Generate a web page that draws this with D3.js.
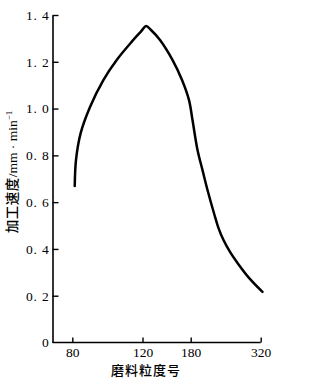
<!DOCTYPE html>
<html>
<head>
<meta charset="utf-8">
<script src="https://cdn.jsdelivr.net/npm/d3@7"></script>
<style>
  body { margin: 0; background: #fff; }
  .tick text { font-family: 'Liberation Serif', 'DejaVu Serif', serif; font-size: 13.5px; fill: #000; }
</style>
</head>
<body>
<div class="canvas"></div>
<script>
const WIDTH = 315;
const HEIGHT = 386;
const margin = { top: 15, left: 52.5, bottom: 43.5 };

// data
const grit = [81.4, 82.1, 84.8, 90.1, 97.7, 105.3, 113.9, 119.2, 124.4, 130.6, 141.8, 157.3, 169.2, 177.9, 183.6, 193.6, 203.6, 213.6, 227.6, 235.6, 245.6, 258.6, 273.6, 296.6, 323.6];
const speed = [0.669, 0.78, 0.896, 1.007, 1.122, 1.208, 1.286, 1.33, 1.353, 1.336, 1.293, 1.208, 1.122, 1.036, 0.951, 0.823, 0.737, 0.652, 0.545, 0.489, 0.438, 0.387, 0.34, 0.276, 0.216];
const xTicks = [80, 120, 180, 320];
const yTicks = [0, 0.2, 0.4, 0.6, 0.8, 1.0, 1.2, 1.4];
const yTickLabels = ['0', '0. 2', '0. 4', '0. 6', '0. 8', '1. 0', '1. 2', '1. 4'];

const data = grit.map((g, i) => ({ grit: g, speed: speed[i] }));

const svg = d3.select('.canvas')
  .append('svg')
    .attr('width', WIDTH)
    .attr('height', HEIGHT);

// scales (x axis is not evenly spaced in the original)
const x = d3.scaleLinear()
  .domain(xTicks)
  .range([72.3, 142.5, 190.7, 260.7]);

const y = d3.scaleLinear()
  .domain([0, 1.4])
  .range([HEIGHT - margin.bottom, margin.top]);

// axes
const xAxis = d3.axisBottom(x)
  .tickValues(xTicks)
  .tickSizeInner(-5)
  .tickSizeOuter(0)
  .tickPadding(5)
  .tickFormat(d => d);

const yAxis = d3.axisLeft(y)
  .tickValues(yTicks)
  .tickSizeInner(-6)
  .tickSizeOuter(0)
  .tickPadding(3)
  .tickFormat((d, i) => yTickLabels[i]);

const xAxisGroup = svg.append('g')
  .attr('transform', `translate(0, ${y(0)})`)
  .call(xAxis);
xAxisGroup.select('.domain').remove();
xAxisGroup.append('line')
  .attr('x1', margin.left)
  .attr('x2', x(320))
  .attr('stroke', '#000')
  .attr('stroke-width', 1.6);

const yAxisGroup = svg.append('g')
  .attr('transform', `translate(${margin.left}, 0)`)
  .call(yAxis);

svg.selectAll('.domain').attr('stroke', '#000').attr('stroke-width', 1.6);
svg.selectAll('.tick line').attr('stroke', '#000').attr('stroke-width', 1.4);
yAxisGroup.selectAll('.tick text').attr('letter-spacing', 0.8);
yAxisGroup.selectAll('.tick').filter(d => d === 0).select('line').remove();

// curve
const line = d3.line()
  .x(d => x(d.grit))
  .y(d => y(d.speed))
  .curve(d3.curveCatmullRom.alpha(0.5));

svg.append('path')
  .datum(data)
  .attr('fill', 'none')
  .attr('stroke', '#000')
  .attr('stroke-width', 2.5)
  .attr('stroke-linejoin', 'round')
  .attr('stroke-linecap', 'round')
  .attr('d', line);

// axis titles
svg.append('text')
  .attr('x', 146)
  .attr('y', 375)
  .attr('text-anchor', 'middle')
  .attr('letter-spacing', 1)
  .style('font-family', "'Noto Sans CJK SC', sans-serif")
  .style('font-size', '13px')
  .style('font-weight', 500)
  .attr('fill', '#000')
  .text('磨料粒度号');

const yTitle = svg.append('text')
  .attr('transform', 'translate(17, 172) rotate(-90)')
  .attr('text-anchor', 'middle')
  .attr('fill', '#000')
  .style('font-size', '13.5px');

yTitle.append('tspan')
  .style('font-family', "'Noto Sans CJK SC', sans-serif")
  .style('font-weight', 500)
  .attr('letter-spacing', 0.5)
  .text('加工速度');
yTitle.append('tspan')
  .style('font-family', "'Liberation Serif', serif")
  .text('/mm · min');
yTitle.append('tspan')
  .style('font-family', "'Liberation Serif', serif")
  .style('font-size', '9px')
  .attr('dy', -5)
  .text('−1');
</script>
</body>
</html>
